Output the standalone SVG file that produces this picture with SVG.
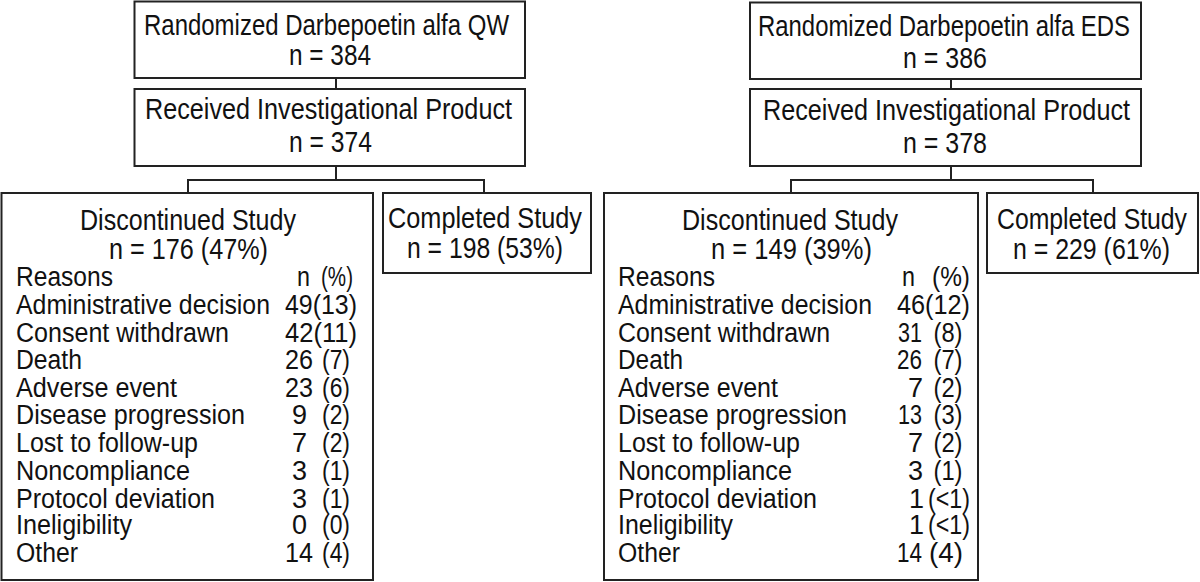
<svg xmlns="http://www.w3.org/2000/svg" width="1200" height="582" viewBox="0 0 1200 582">
<style>
.box{fill:#fff;stroke:#222;stroke-width:2}
.con line{stroke:#222;stroke-width:2}
text{font-family:"Liberation Sans",Arial,sans-serif;fill:#111}
.h{font-size:29px;text-anchor:middle}
.t{font-size:27px}
.m{text-anchor:middle}
.e{text-anchor:end}
</style>
<rect width="1200" height="582" fill="#fff"/>
<g id="connectors" class="con">
<line x1="336" y1="78" x2="336" y2="89"/>
<line x1="336" y1="166" x2="336" y2="181"/>
<line x1="187" y1="180" x2="485" y2="180"/>
<line x1="188" y1="180" x2="188" y2="193"/>
<line x1="484" y1="180" x2="484" y2="193"/>
<line x1="951" y1="79" x2="951" y2="89"/>
<line x1="951" y1="166" x2="951" y2="181"/>
<line x1="790" y1="180" x2="1094" y2="180"/>
<line x1="791" y1="180" x2="791" y2="193"/>
<line x1="1093" y1="180" x2="1093" y2="193"/>
</g>
<g id="rand-qw">
<rect class="box" x="134.5" y="1.5" width="390.5" height="76.5"/>
<text class="h" x="326.5" y="35" textLength="365" lengthAdjust="spacingAndGlyphs">Randomized Darbepoetin alfa QW</text>
<text class="h" x="330" y="65" textLength="82" lengthAdjust="spacingAndGlyphs">n = 384</text>
</g>
<g id="recv-qw">
<rect class="box" x="134.5" y="89" width="390.5" height="77"/>
<text class="h" x="328.5" y="119" textLength="367" lengthAdjust="spacingAndGlyphs">Received Investigational Product</text>
<text class="h" x="330.5" y="152" textLength="83" lengthAdjust="spacingAndGlyphs">n = 374</text>
</g>
<g id="disc-qw">
<rect class="box" x="1.5" y="193" width="371.5" height="387"/>
<text class="h" x="188" y="230" textLength="216" lengthAdjust="spacingAndGlyphs">Discontinued Study</text>
<text class="h" x="188.5" y="259" textLength="159" lengthAdjust="spacingAndGlyphs">n = 176 (47%)</text>
<g class="t">
<text x="16" y="286" textLength="97" lengthAdjust="spacingAndGlyphs">Reasons</text>
<text x="16" y="314" textLength="254" lengthAdjust="spacingAndGlyphs">Administrative decision</text>
<text x="16" y="342" textLength="213" lengthAdjust="spacingAndGlyphs">Consent withdrawn</text>
<text x="16" y="369" textLength="66" lengthAdjust="spacingAndGlyphs">Death</text>
<text x="16" y="397" textLength="161" lengthAdjust="spacingAndGlyphs">Adverse event</text>
<text x="16" y="424" textLength="229" lengthAdjust="spacingAndGlyphs">Disease progression</text>
<text x="16" y="452" textLength="182" lengthAdjust="spacingAndGlyphs">Lost to follow-up</text>
<text x="16" y="480" textLength="174" lengthAdjust="spacingAndGlyphs">Noncompliance</text>
<text x="16" y="508" textLength="199" lengthAdjust="spacingAndGlyphs">Protocol deviation</text>
<text x="16" y="534" textLength="116" lengthAdjust="spacingAndGlyphs">Ineligibility</text>
<text x="16" y="562" textLength="62" lengthAdjust="spacingAndGlyphs">Other</text>
<text class="m" x="303.5" y="286" textLength="13" lengthAdjust="spacingAndGlyphs">n</text><text class="m" x="337" y="286" textLength="32" lengthAdjust="spacingAndGlyphs">(%)</text>
<text class="e" x="357" y="314" textLength="72" lengthAdjust="spacingAndGlyphs">49(13)</text>
<text class="e" x="357" y="342" textLength="72" lengthAdjust="spacingAndGlyphs">42(11)</text>
<text class="m" x="299" y="369" textLength="28" lengthAdjust="spacingAndGlyphs">26</text><text class="m" x="336" y="369" textLength="28" lengthAdjust="spacingAndGlyphs">(7)</text>
<text class="m" x="299" y="397" textLength="28" lengthAdjust="spacingAndGlyphs">23</text><text class="m" x="336" y="397" textLength="28" lengthAdjust="spacingAndGlyphs">(6)</text>
<text class="m" x="299.5" y="424">9</text><text class="m" x="336" y="424" textLength="28" lengthAdjust="spacingAndGlyphs">(2)</text>
<text class="m" x="299.5" y="452">7</text><text class="m" x="336" y="452" textLength="28" lengthAdjust="spacingAndGlyphs">(2)</text>
<text class="m" x="299.5" y="480">3</text><text class="m" x="336" y="480" textLength="28" lengthAdjust="spacingAndGlyphs">(1)</text>
<text class="m" x="299.5" y="508">3</text><text class="m" x="336" y="508" textLength="28" lengthAdjust="spacingAndGlyphs">(1)</text>
<text class="m" x="299.5" y="534">0</text><text class="m" x="336" y="534" textLength="28" lengthAdjust="spacingAndGlyphs">(0)</text>
<text class="m" x="299" y="562" textLength="28" lengthAdjust="spacingAndGlyphs">14</text><text class="m" x="336" y="562" textLength="28" lengthAdjust="spacingAndGlyphs">(4)</text>
</g>
</g>
<g id="comp-qw">
<rect class="box" x="383" y="193" width="208" height="80"/>
<text class="h" x="485" y="228" textLength="194" lengthAdjust="spacingAndGlyphs">Completed Study</text>
<text class="h" x="485" y="258" textLength="156" lengthAdjust="spacingAndGlyphs">n = 198 (53%)</text>
</g>
<g id="rand-eds">
<rect class="box" x="750" y="2.5" width="391" height="76.5"/>
<text class="h" x="944" y="36" textLength="372" lengthAdjust="spacingAndGlyphs">Randomized Darbepoetin alfa EDS</text>
<text class="h" x="945" y="68" textLength="84" lengthAdjust="spacingAndGlyphs">n = 386</text>
</g>
<g id="recv-eds">
<rect class="box" x="750" y="89" width="391" height="77"/>
<text class="h" x="946.5" y="120" textLength="367" lengthAdjust="spacingAndGlyphs">Received Investigational Product</text>
<text class="h" x="945" y="153" textLength="84" lengthAdjust="spacingAndGlyphs">n = 378</text>
</g>
<g id="disc-eds">
<rect class="box" x="604" y="193" width="374" height="387"/>
<text class="h" x="790" y="230" textLength="216" lengthAdjust="spacingAndGlyphs">Discontinued Study</text>
<text class="h" x="791.5" y="259" textLength="161" lengthAdjust="spacingAndGlyphs">n = 149 (39%)</text>
<g class="t">
<text x="618" y="286" textLength="97" lengthAdjust="spacingAndGlyphs">Reasons</text>
<text x="618" y="314" textLength="254" lengthAdjust="spacingAndGlyphs">Administrative decision</text>
<text x="618" y="342" textLength="212" lengthAdjust="spacingAndGlyphs">Consent withdrawn</text>
<text x="618" y="369" textLength="65" lengthAdjust="spacingAndGlyphs">Death</text>
<text x="618" y="397" textLength="160" lengthAdjust="spacingAndGlyphs">Adverse event</text>
<text x="618" y="424" textLength="229" lengthAdjust="spacingAndGlyphs">Disease progression</text>
<text x="618" y="452" textLength="182" lengthAdjust="spacingAndGlyphs">Lost to follow-up</text>
<text x="618" y="480" textLength="174" lengthAdjust="spacingAndGlyphs">Noncompliance</text>
<text x="618" y="508" textLength="199" lengthAdjust="spacingAndGlyphs">Protocol deviation</text>
<text x="618" y="534" textLength="115" lengthAdjust="spacingAndGlyphs">Ineligibility</text>
<text x="618" y="562" textLength="62" lengthAdjust="spacingAndGlyphs">Other</text>
<text class="m" x="908.5" y="286" textLength="13" lengthAdjust="spacingAndGlyphs">n</text><text class="m" x="951" y="286" textLength="38" lengthAdjust="spacingAndGlyphs">(%)</text>
<text class="e" x="970" y="314" textLength="73" lengthAdjust="spacingAndGlyphs">46(12)</text>
<text class="e" x="922" y="342" textLength="24" lengthAdjust="spacingAndGlyphs">31</text><text class="m" x="948" y="342" textLength="29" lengthAdjust="spacingAndGlyphs">(8)</text>
<text class="e" x="922" y="369" textLength="25" lengthAdjust="spacingAndGlyphs">26</text><text class="m" x="948" y="369" textLength="29" lengthAdjust="spacingAndGlyphs">(7)</text>
<text class="e" x="923" y="397">7</text><text class="m" x="948" y="397" textLength="29" lengthAdjust="spacingAndGlyphs">(2)</text>
<text class="e" x="922" y="424" textLength="24" lengthAdjust="spacingAndGlyphs">13</text><text class="m" x="948" y="424" textLength="29" lengthAdjust="spacingAndGlyphs">(3)</text>
<text class="e" x="923" y="452">7</text><text class="m" x="948" y="452" textLength="29" lengthAdjust="spacingAndGlyphs">(2)</text>
<text class="e" x="923" y="480">3</text><text class="m" x="948" y="480" textLength="29" lengthAdjust="spacingAndGlyphs">(1)</text>
<text class="e" x="924" y="508">1</text><text class="m" x="949" y="508" textLength="42" lengthAdjust="spacingAndGlyphs">(&lt;1)</text>
<text class="e" x="924" y="534">1</text><text class="m" x="949" y="534" textLength="42" lengthAdjust="spacingAndGlyphs">(&lt;1)</text>
<text class="e" x="922" y="562" textLength="25" lengthAdjust="spacingAndGlyphs">14</text><text class="m" x="946" y="562" textLength="34" lengthAdjust="spacingAndGlyphs">(4)</text>
</g>
</g>
<g id="comp-eds">
<rect class="box" x="987" y="193" width="211" height="80"/>
<text class="h" x="1092" y="229" textLength="190" lengthAdjust="spacingAndGlyphs">Completed Study</text>
<text class="h" x="1091.5" y="259" textLength="157" lengthAdjust="spacingAndGlyphs">n = 229 (61%)</text>
</g>
</svg>
